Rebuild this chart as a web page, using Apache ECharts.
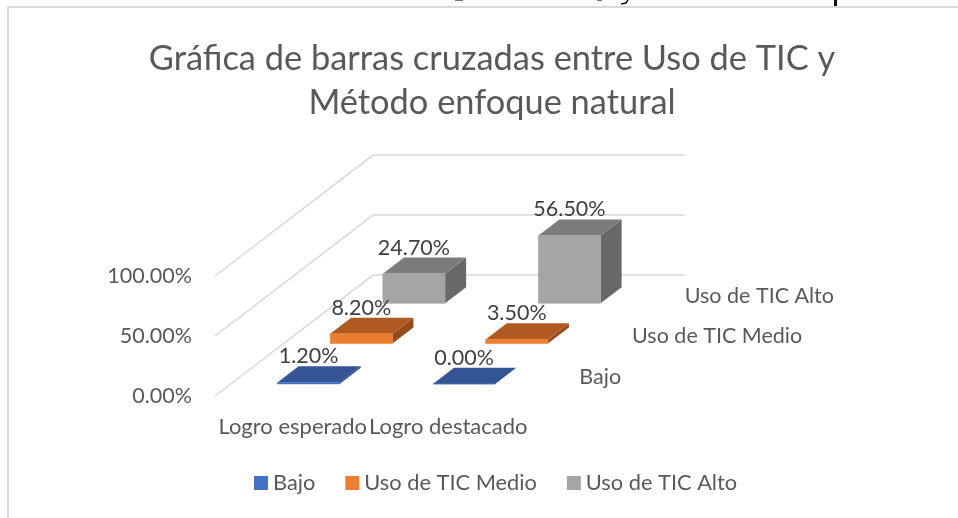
<!DOCTYPE html>
<html>
<head>
<meta charset="utf-8">
<title>Barras cruzadas</title>
<script src="https://cdn.jsdelivr.net/npm/echarts@6/dist/echarts.min.js"></script>
<style>
  html, body { margin: 0; padding: 0; background: #fff; }
  #main { width: 958px; height: 518px; }
</style>
</head>
<body>
<div id="main"></div>
<script>
// datos del grafico
var categories = ['Logro esperado', 'Logro destacado'];
var seriesNames = ['Bajo', 'Uso de TIC Medio', 'Uso de TIC Alto'];
var bajo = [1.2, 0.0];
var medio = [8.2, 3.5];
var alto = [24.7, 56.5];
var ticks = [0, 50, 100];

var FONT = 'Lato';
var TEXT = '#595959';
var GRID_LINE = '#D9D9D9';
// cuanto se desplaza la pantalla por cada fila de profundidad
var STEP_X = 52.7;
var STEP_Y = -40.3;
// colores: frente, arriba, lado
var colors = [
  ['#4472C4', '#335593', '#2A4679'],
  ['#ED7D31', '#B05A22', '#964C1C'],
  ['#A5A5A5', '#7C7C7C', '#686868']
];

function shift(p, d) {
  return [p[0] + d * STEP_X, p[1] + d * STEP_Y];
}

// barra 3D: api.coord da el punto en el plano frontal, luego se lleva a su fila
function barItem(row) {
  return function (params, api) {
    var c = api.value(0);
    var v = api.value(1);
    var base = api.coord([c, 0]);
    var top = api.coord([c, v]);
    var w = api.size([1, 0])[0] * 0.4;
    var d0 = row + 0.3;
    var d1 = row + 0.7;
    var fl = shift([base[0] - w / 2, base[1]], d0);
    var fr = shift([base[0] + w / 2, base[1]], d0);
    var tl = shift([top[0] - w / 2, top[1]], d0);
    var tr = shift([top[0] + w / 2, top[1]], d0);
    var bl = shift([top[0] - w / 2, top[1]], d1);
    var br = shift([top[0] + w / 2, top[1]], d1);
    var dr = shift([base[0] + w / 2, base[1]], d1);
    var col = colors[row];
    return {
      type: 'group',
      children: [
        { type: 'polygon', shape: { points: [tr, br, dr, fr] }, style: { fill: col[2] } },
        { type: 'polygon', shape: { points: [tl, bl, br, tr] }, style: { fill: col[1] } },
        { type: 'polygon', shape: { points: [fl, tl, tr, fr] }, style: { fill: col[0], stroke: col[0], lineWidth: 0.6 } },
        {
          type: 'text',
          style: {
            x: (tl[0] + tr[0]) / 2,
            y: tl[1] - 26,
            text: v.toFixed(2) + '%',
            font: '21.5px ' + FONT,
            fill: '#404040',
            textAlign: 'center',
            textVerticalAlign: 'middle'
          }
        }
      ]
    };
  };
}

// lineas de las paredes: lado izquierdo + pared del fondo
function wallItem(params, api) {
  var t = api.value(0);
  var band = api.size([1, 0])[0];
  var a = api.coord([0, t]);
  var b = api.coord([categories.length - 1, t]);
  a = [a[0] - band / 2, a[1]];
  b = [b[0] + band / 2, b[1]];
  var p1 = shift(a, 3);
  var p2 = shift(b, 3);
  return {
    type: 'polyline',
    shape: { points: [a, p1, p2] },
    style: { stroke: GRID_LINE, lineWidth: 1.5, fill: null }
  };
}

// nombres de las filas a la derecha del piso
function rowLabelItem(params, api) {
  var i = params.dataIndex;
  var band = api.size([1, 0])[0];
  var end = api.coord([categories.length - 1, 0]);
  var p = shift([end[0] + band / 2, end[1]], i + 0.5);
  return {
    type: 'text',
    style: {
      x: p[0] + 27,
      y: p[1] + 1,
      text: seriesNames[i],
      font: '21.5px ' + FONT,
      fill: TEXT,
      textAlign: 'left',
      textVerticalAlign: 'middle'
    }
  };
}

function barData(values) {
  return values.map(function (v, i) { return [i, v]; });
}

var chart = echarts.init(document.getElementById('main'));
chart.setOption({
  backgroundColor: '#fff',
  animation: false,
  title: {
    text: 'Gráfica de barras cruzadas entre Uso de TIC y\nMétodo enfoque natural',
    left: 487,
    top: 32,
    textAlign: 'center',
    textStyle: { fontFamily: FONT, fontSize: 34.4, fontWeight: 'normal', color: TEXT, lineHeight: 44 }
  },
  legend: {
    data: seriesNames,
    left: 249,
    top: 467,
    icon: 'rect',
    itemWidth: 14,
    itemHeight: 14,
    itemGap: 30,
    textStyle: { fontFamily: FONT, fontSize: 21.8, color: TEXT }
  },
  grid: { left: 215, top: 276, width: 311, height: 120 },
  xAxis: {
    type: 'category',
    data: categories,
    axisLine: { show: false },
    axisTick: { show: false },
    axisLabel: { interval: 0, margin: 20, fontFamily: FONT, fontSize: 22, color: TEXT }
  },
  yAxis: {
    type: 'value',
    min: 0,
    max: 100,
    interval: 50,
    splitLine: { show: false },
    axisLine: { show: false },
    axisTick: { show: false },
    axisLabel: {
      margin: 23,
      fontFamily: FONT,
      fontSize: 21.5,
      color: TEXT,
      formatter: function (v) { return v.toFixed(2) + '%'; }
    }
  },
  graphic: [
    // marco del grafico, recortado por la ventana
    {
      type: 'polyline',
      silent: true,
      shape: { points: [[8, 518], [8, 7], [958, 7]] },
      style: { stroke: GRID_LINE, lineWidth: 2, fill: null }
    },
    // restos del texto del documento cortado arriba
    { type: 'rect', silent: true, shape: { x: 455, y: 0, width: 8, height: 1 }, style: { fill: '#777' } },
    { type: 'rect', silent: true, shape: { x: 597, y: 0, width: 5, height: 1 }, style: { fill: '#777' } },
    { type: 'polyline', silent: true, shape: { points: [[628, 0], [626, 3], [621, 4]] }, style: { stroke: '#111', lineWidth: 1.5, fill: null } },
    { type: 'rect', silent: true, shape: { x: 834, y: 0, width: 3, height: 6 }, style: { fill: '#111' } }
  ],
  series: [
    { type: 'custom', name: 'walls', silent: true, z: 1, renderItem: wallItem, data: ticks.map(function (t) { return [t]; }), encode: { y: 0 } },
    { type: 'custom', name: 'rows', silent: true, z: 1, renderItem: rowLabelItem, data: seriesNames.map(function (n, i) { return [i]; }), encode: { x: 0 } },
    { type: 'custom', name: seriesNames[2], z: 2, renderItem: barItem(2), data: barData(alto), itemStyle: { color: colors[2][0] }, encode: { x: 0, y: 1 } },
    { type: 'custom', name: seriesNames[1], z: 3, renderItem: barItem(1), data: barData(medio), itemStyle: { color: colors[1][0] }, encode: { x: 0, y: 1 } },
    { type: 'custom', name: seriesNames[0], z: 4, renderItem: barItem(0), data: barData(bajo), itemStyle: { color: colors[0][0] }, encode: { x: 0, y: 1 } }
  ]
});
</script>
</body>
</html>
